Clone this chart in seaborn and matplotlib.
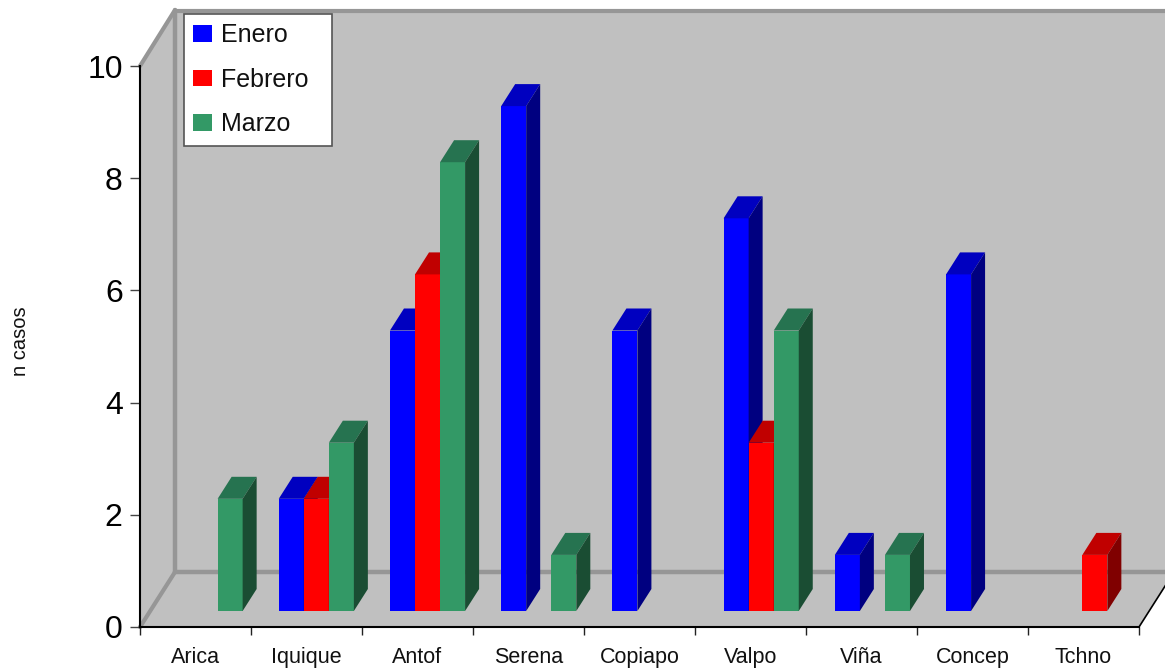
import matplotlib
matplotlib.use("Agg")
import matplotlib.pyplot as plt
from matplotlib.patches import Polygon
import pandas as pd
import seaborn as sns

# values
ciudades = ["Arica", "Iquique", "Antof", "Serena", "Copiapo", "Valpo", "Viña", "Concep", "Tchno"]
enero = [0, 2, 5, 9, 5, 7, 1, 6, 0]
febrero = [0, 2, 6, 0, 0, 3, 0, 0, 1]
marzo = [2, 3, 8, 1, 0, 5, 1, 0, 0]
meses = ["Enero", "Febrero", "Marzo"]
y_ticks = [0, 2, 4, 6, 8, 10]

colores = {"Enero": "#0000FF", "Febrero": "#FF0000", "Marzo": "#339966"}
tapas = {"#0000FF": "#0000C0", "#FF0000": "#C00000", "#339966": "#267350"}
lados = {"#0000FF": "#000080", "#FF0000": "#800000", "#339966": "#1A4D33"}

df = pd.DataFrame({"ciudad": ciudades * 3,
                   "mes": [m for m in meses for _ in ciudades],
                   "casos": enero + febrero + marzo})

sns.set_style("white")
plt.rcParams["font.family"] = ["Liberation Sans", "DejaVu Sans"]

fig = plt.figure(figsize=(11.65, 6.7), dpi=100)

# fake 3D box behind the chart, in pixels
bg = fig.add_axes([0, 0, 1, 1], zorder=0)
bg.set_xlim(0, 1165)
bg.set_ylim(670, 0)
bg.axis("off")
gris = "#C0C0C0"
bg.add_patch(Polygon([(175, 10), (1180, 10), (1180, 572), (175, 572)], color=gris, lw=0))
bg.add_patch(Polygon([(140, 627), (1139, 627), (1174, 572), (175, 572)], color=gris, lw=0))
bg.add_patch(Polygon([(140, 66), (175, 10), (175, 572), (140, 627)], color=gris, lw=0))
linea = "#969696"
bg.plot([175, 1180], [11, 11], color=linea, lw=3)
bg.plot([175, 175], [10, 572], color=linea, lw=3.2)
bg.plot([175, 1180], [572, 572], color=linea, lw=3.2)
bg.plot([140, 175], [66, 10], color=linea, lw=3)
bg.plot([140, 175], [627, 572], color=linea, lw=3)
bg.plot([1139, 1174], [627, 572], color="black", lw=1.2)

ax = fig.add_axes([140 / 1165, 43 / 670, 999 / 1165, 561 / 670], zorder=1)
ax.patch.set_alpha(0)
sns.barplot(data=df, x="ciudad", y="casos", hue="mes", palette=colores, width=0.676,
            gap=0, saturation=1, linewidth=0, ax=ax)
ax.set_xlim(-0.5, 8.5)
ax.set_ylim(0, 10)

# depth of the box and of the bars, in data units
base_x = 9.6 / 111
base_y = 16 / 56.1
fondo_x = 14 / 111
fondo_y = 22 / 56.1

barras = [p for c in ax.containers for p in c.patches if p.get_height() > 0]
barras.sort(key=lambda p: p.get_x())
for i, p in enumerate(barras):
    color = matplotlib.colors.to_hex(p.get_facecolor()).upper()
    p.set_x(p.get_x() * 1.002 + base_x)  # bar plane is a touch wider than the front edge
    p.set_y(base_y)
    p.set_clip_on(False)
    p.set_zorder(3 + i)
    x0 = p.get_x()
    x1 = x0 + p.get_width()
    y0 = p.get_y()
    y1 = y0 + p.get_height()
    ax.add_patch(Polygon([(x0, y1), (x1, y1), (x1 + fondo_x, y1 + fondo_y), (x0 + fondo_x, y1 + fondo_y)],
                         color=tapas[color], lw=0, clip_on=False, zorder=3 + i))
    ax.add_patch(Polygon([(x1, y0), (x1 + fondo_x, y0 + fondo_y), (x1 + fondo_x, y1 + fondo_y), (x1, y1)],
                         color=lados[color], lw=0, clip_on=False, zorder=3 + i))

sns.despine(ax=ax)
for s in ["left", "bottom"]:
    ax.spines[s].set_color("black")
    ax.spines[s].set_linewidth(1.5)

ax.set_xlabel("")
ax.set_ylabel("")
ax.set_yticks(y_ticks)
ax.tick_params(axis="y", left=True, length=7, width=1, color="#444444", labelsize=23, pad=5.5,
               labelcolor="black")
ax.set_xticks(range(len(ciudades)))
ax.set_xticklabels(ciudades)
ax.tick_params(axis="x", which="major", length=0, labelsize=15.5, pad=14.5, labelcolor="#111111")
ax.set_xticks([i - 0.5 for i in range(len(ciudades) + 1)], minor=True)
ax.tick_params(axis="x", which="minor", bottom=True, length=6, width=1, color="#222222")

fig.text(20 / 1165, 1 - 341 / 670, "n casos", rotation=90, va="center", ha="center",
         fontsize=14.5, color="#111111")

handles, labels = ax.get_legend_handles_labels()
leg = ax.legend(handles, labels, loc="upper left",
                bbox_to_anchor=(184 / 1165, 1 - 14 / 670, 148 / 1165, 0),
                bbox_transform=fig.transFigure, mode="expand", fontsize=18, frameon=True,
                fancybox=False, framealpha=1, edgecolor="#555555", facecolor="white",
                borderaxespad=0, handlelength=0.76, handleheight=0.64, handletextpad=0.36,
                labelspacing=0.82, borderpad=0.37, labelcolor="#111111", title=None)
leg.set_zorder(100)
leg.get_frame().set_linewidth(1.2)

fig.savefig("out.png", dpi=100)
